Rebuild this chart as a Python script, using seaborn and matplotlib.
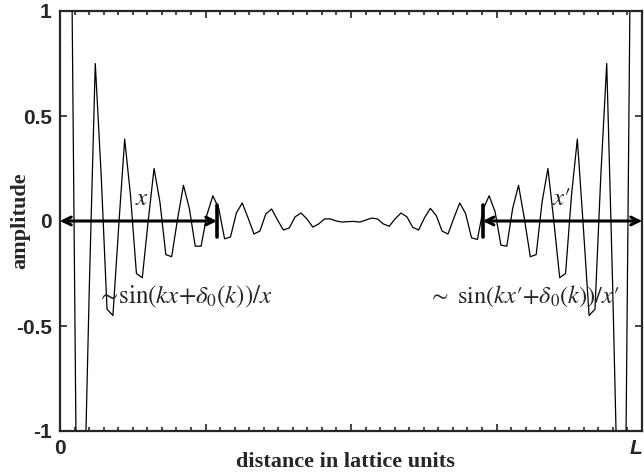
import numpy as np
import pandas as pd
import matplotlib
matplotlib.use("Agg")
import matplotlib.pyplot as plt
import seaborn as sns

# --- Data: one value per lattice site ---
L = 99
SITES = list(range(1, 99))
AMPLITUDE = [
    2.5, 1.2, -1.9, -1.5, -0.3, 0.75, 0.22, -0.42, -0.45, -0.02,      # 1-10
    0.39, 0.12, -0.25, -0.27, 0.0, 0.25, 0.09, -0.16, -0.17, 0.01,    # 11-20
    0.17, 0.06, -0.12, -0.12, 0.03, 0.12, 0.06, -0.085, -0.076, 0.038,  # 21-30
    0.086, 0.014, -0.062, -0.048, 0.033, 0.057, 0.005, -0.043, -0.033, 0.02,  # 31-40
    0.038, 0.01, -0.029, -0.014, 0.01, 0.01, 0.0, -0.005, -0.003, -0.002,  # 41-50
    -0.005, 0.004, 0.014, 0.01, -0.014, -0.025, 0.01, 0.038, 0.02, -0.03,  # 51-60
    -0.043, 0.015, 0.06, 0.026, -0.048, -0.062, 0.014, 0.086, 0.035, -0.08,  # 61-70
    -0.088, 0.058, 0.12, 0.045, -0.115, -0.12, 0.06, 0.17, 0.01, -0.17,  # 71-80
    -0.16, 0.09, 0.25, 0.0, -0.27, -0.25, 0.12, 0.39, -0.02, -0.45,   # 81-90
    -0.42, 0.22, 0.75, -0.3, -1.5, -1.9, 1.2, 2.5,                    # 91-98
]

YTICKS = [-1, -0.5, 0, 0.5, 1]
YTICK_LABELS = ["-1", "-0.5", "0", "0.5", "1"]
XTICK_LABELS = ["0", "", "", "", "L"]

# annotation anchors (lattice units)
LEFT_BAR = 26.7
RIGHT_BAR = 71.9

sns.set_style("ticks")
plt.rcParams["mathtext.fontset"] = "stix"
plt.rcParams["font.family"] = ["Liberation Sans", "DejaVu Sans"]

df = pd.DataFrame({"site": SITES, "amplitude": AMPLITUDE})

fig = plt.figure(figsize=(6.44, 4.72), dpi=100)
ax = fig.add_axes([60 / 644, 1 - 431 / 472, 582 / 644, 420 / 472])

sns.lineplot(data=df, x="site", y="amplitude", color="black", lw=0.9,
             ax=ax, legend=False)

ax.set_xlim(0, L)
ax.set_ylim(-1, 1)

# ticks: inward on all four sides, minor ticks along x
ax.set_xticks(np.linspace(0, L, 5))
ax.set_xticks(np.linspace(0, L, 41), minor=True)
ax.set_xticklabels(XTICK_LABELS)
ax.set_yticks(YTICKS)
ax.set_yticklabels(YTICK_LABELS)
ax.tick_params(which="both", direction="in", top=True, right=True,
               labelsize=15, pad=6, width=1.2)
ax.tick_params(which="major", length=5)
ax.tick_params(which="minor", length=3)
for lab in ax.get_xticklabels() + ax.get_yticklabels():
    lab.set_fontweight("bold")
ax.get_xticklabels()[-1].set_style("italic")
ax.get_xticklabels()[-1].set_ha("right")
for sp in ax.spines.values():
    sp.set_linewidth(1.6)

serif = "Liberation Serif"
ax.set_xlabel("distance in lattice units", family=serif, fontsize=16,
              fontweight="bold", va="center")
ax.set_ylabel("amplitude", family=serif, fontsize=16, fontweight="bold",
              va="center")
ax.xaxis.set_label_coords(0.49, -0.074)
ax.yaxis.set_label_coords(-0.069, 0.5)

# double arrows along the zero line
arrow = dict(arrowstyle="<->", lw=2.2, color="black",
             shrinkA=0, shrinkB=0, mutation_scale=14)
ax.annotate("", xy=(0, 0), xytext=(LEFT_BAR, 0), arrowprops=arrow)
ax.annotate("", xy=(L, 0), xytext=(RIGHT_BAR, 0), arrowprops=arrow)
ax.plot([LEFT_BAR, LEFT_BAR], [-0.075, 0.075], color="black", lw=2.6)
ax.plot([RIGHT_BAR, RIGHT_BAR], [-0.075, 0.075], color="black", lw=2.6)

ax.text(13.9, 0.11, r"$x$", fontsize=18, ha="center", va="center")
ax.text(85.3, 0.11, r"$x\prime$", fontsize=18, ha="center", va="center")

ax.text(6.3, -0.36, r"$\sim\!\sin(kx{+}\delta_0(k))/x$", fontsize=18,
        ha="left", va="center")
ax.text(62.6, -0.36, r"$\sim\ \sin(kx\prime{+}\delta_0(k))/x\prime$",
        fontsize=17.5, ha="left", va="center")

fig.savefig("out.png", dpi=100)
